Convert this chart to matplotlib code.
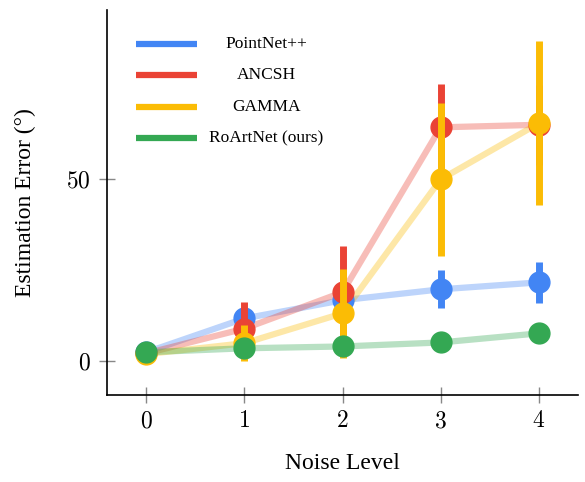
import matplotlib
matplotlib.use('Agg')
import matplotlib.pyplot as plt
import numpy as np

plt.rcParams['font.family'] = ['Liberation Serif', 'DejaVu Serif']
plt.rcParams['mathtext.fontset'] = 'cm'

levels = [0, 1, 2, 3, 4]
names = ['PointNet++', 'ANCSH', 'GAMMA', 'RoArtNet (ours)']
colors = ['#4285F4', '#EA4335', '#FBBC05', '#34A853']

pointnet = [2.5, 11.8, 16.8, 19.8, 21.7]
pointnet_err = [0.8, 3.0, 4.0, 5.2, 5.6]
ancsh = [2.2, 9.0, 19.0, 64.3, 65.0]
ancsh_err = [0.8, 7.2, 12.6, 11.8, 11.0]
gamma = [2.0, 5.0, 13.2, 50.0, 65.4]
gamma_err = [0.8, 5.0, 12.3, 21.0, 22.5]
roartnet = [2.5, 3.6, 4.1, 5.2, 7.7]
roartnet_err = [0.6, 0.8, 0.8, 1.0, 1.2]

means = [pointnet, ancsh, gamma, roartnet]
errs = [pointnet_err, ancsh_err, gamma_err, roartnet_err]

fig = plt.figure(figsize=(5.85, 4.82), dpi=100)
ax = fig.add_axes([0.183, 0.18, 0.805, 0.799])

# faded connecting lines first
for m, c in zip(means, colors):
    ax.plot(levels, m, color=c, lw=4.5, alpha=0.35, solid_capstyle='butt', zorder=1)

# error bars + markers, later series on top
for i, (m, e, c) in enumerate(zip(means, errs, colors)):
    ax.errorbar(levels, m, yerr=e, fmt='o', color=c, ms=15, elinewidth=5,
                capsize=0, zorder=2 + i)

ax.set_xlim(-0.4, 4.4)
ax.set_ylim(-9.3, 96.5)
ax.set_xticks(levels, labels=['$%d$' % v for v in levels])
ax.set_yticks([0, 50], labels=['$0$', '$50$'])
ax.tick_params(direction='inout', length=11, width=1, color='#888888',
               labelsize=17, pad=6)
for s in ['top', 'right']:
    ax.spines[s].set_visible(False)
for s in ['left', 'bottom']:
    ax.spines[s].set_linewidth(1.2)

ax.set_xlabel('Noise Level', fontsize=17, labelpad=15)
ax.set_ylabel('Estimation Error (°)', fontsize=17, labelpad=22)

# legend drawn by hand, texts centred like the original
leg_y = [0.912, 0.831, 0.748, 0.668]
for n, c, yy in zip(names, colors, leg_y):
    ax.plot([0.062, 0.191], [yy, yy], color=c, lw=4.5, transform=ax.transAxes,
            solid_capstyle='butt', zorder=10)
    ax.text(0.338, yy, n, ha='center', va='center', fontsize=12.5,
            transform=ax.transAxes, zorder=10)

fig.savefig('out.png', dpi=100)
